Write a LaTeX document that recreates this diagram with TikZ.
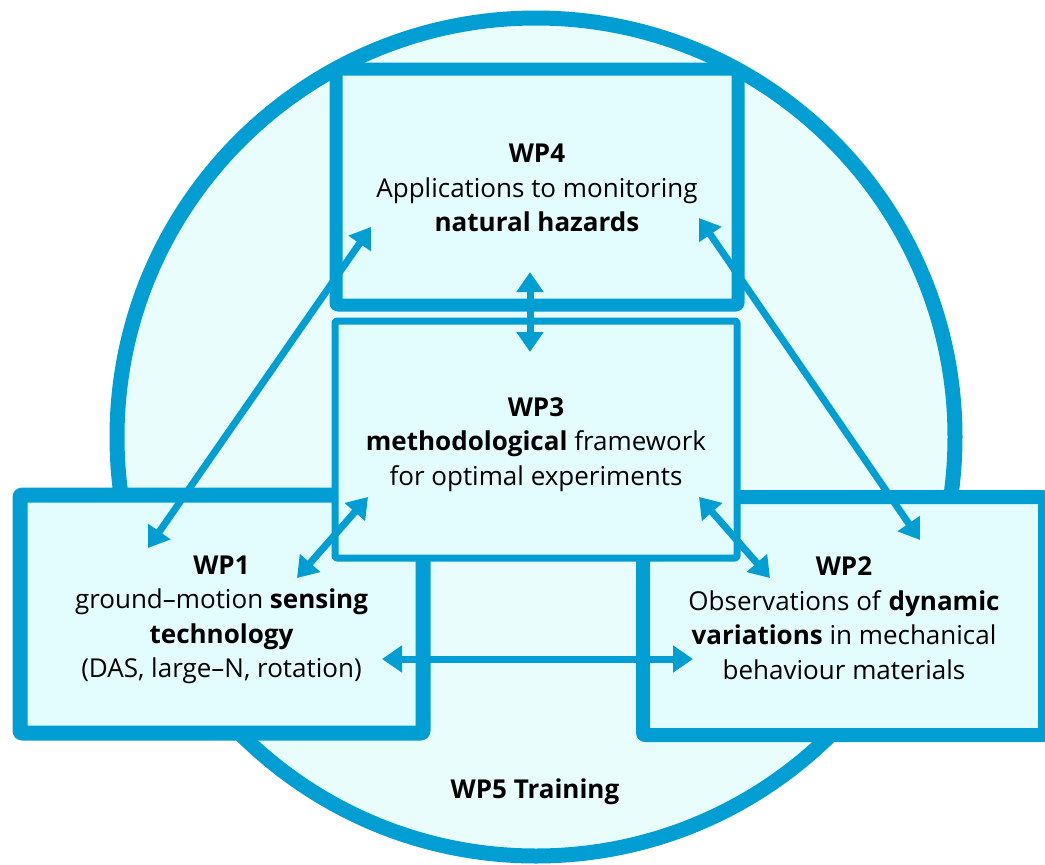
\documentclass[tikz,border=0pt]{standalone}
\usepackage{fontspec}
\setmainfont{Open Sans}
\usetikzlibrary{arrows.meta}
\definecolor{wpblue}{RGB}{0,158,210}
\definecolor{boxfill}{RGB}{227,252,253}
\definecolor{circfill}{RGB}{234,253,253}
\begin{document}
\begin{tikzpicture}[x=1pt,y=-1pt,
  wpbox/.style={draw=wpblue, fill=boxfill, inner sep=0pt,
    line join=round, rounded corners=2pt},
  link/.style={draw=wpblue, line width=7pt,
    {Triangle[length=20pt,width=26pt]}-{Triangle[length=20pt,width=26pt]}},
  txt/.style={font=\fontsize{26}{34.5}\selectfont, inner sep=0pt, align=center}
]
\useasboundingbox (0,0) rectangle (1045,865);
\node[circle, draw=wpblue, fill=circfill, line width=15pt, minimum size=838pt, inner sep=0pt] (wp5) at (536,437) {};
\node[txt] (wp5label) at (535,792) {\textbf{WP5 Training}};

\node[wpbox, line width=13pt, minimum width=402pt, minimum height=236pt] (wp4) at (537,187) {};
\node[wpbox, line width=15pt, minimum width=403pt, minimum height=238pt] (wp1) at (221.5,614) {};
\node[wpbox, line width=14pt, minimum width=402pt, minimum height=238pt] (wp2) at (844,616) {};
\node[wpbox, line width=7pt, minimum width=402pt, minimum height=237pt] (wp3) at (536,439.5) {};

\node[txt] (wp4text) at ([yshift=-1pt]wp4.center)
  {\textbf{WP4}\\Applications to monitoring\\\textbf{natural hazards}};
\node[txt] (wp1text) at ([yshift=-6pt]wp1.center)
  {\textbf{WP1}\\ground–motion \textbf{sensing}\\\textbf{technology}\\(DAS, large–N, rotation)};
\node[txt] (wp2text) at ([yshift=-2pt]wp2.center)
  {\textbf{WP2}\\Observations of \textbf{dynamic}\\\textbf{variations} in mechanical\\behaviour materials};
\node[txt] (wp3text) at ([yshift=-5pt]wp3.center)
  {\textbf{WP3}\\\textbf{methodological} framework\\for optimal experiments};

\coordinate (c41) at (371,227);
\coordinate (c14) at (148,548);
\coordinate (c13) at (297,578);
\coordinate (c31) at (368,497);
\coordinate (c42) at (699,218);
\coordinate (c24) at (920,540);
\coordinate (c32) at (699,497);
\coordinate (c23) at (770,578);
\coordinate (c12) at (382,659);
\coordinate (c21) at (693,659);
\coordinate (c43) at (530,272);
\coordinate (c34) at (530,352);

\draw[link] (c14) -- (c41);
\draw[link] (c13) -- (c31);
\draw[link] (c42) -- (c24);
\draw[link] (c32) -- (c23);
\draw[link] (c12) -- (c21);
\draw[link] (c43) -- (c34);
\end{tikzpicture}
\end{document}
